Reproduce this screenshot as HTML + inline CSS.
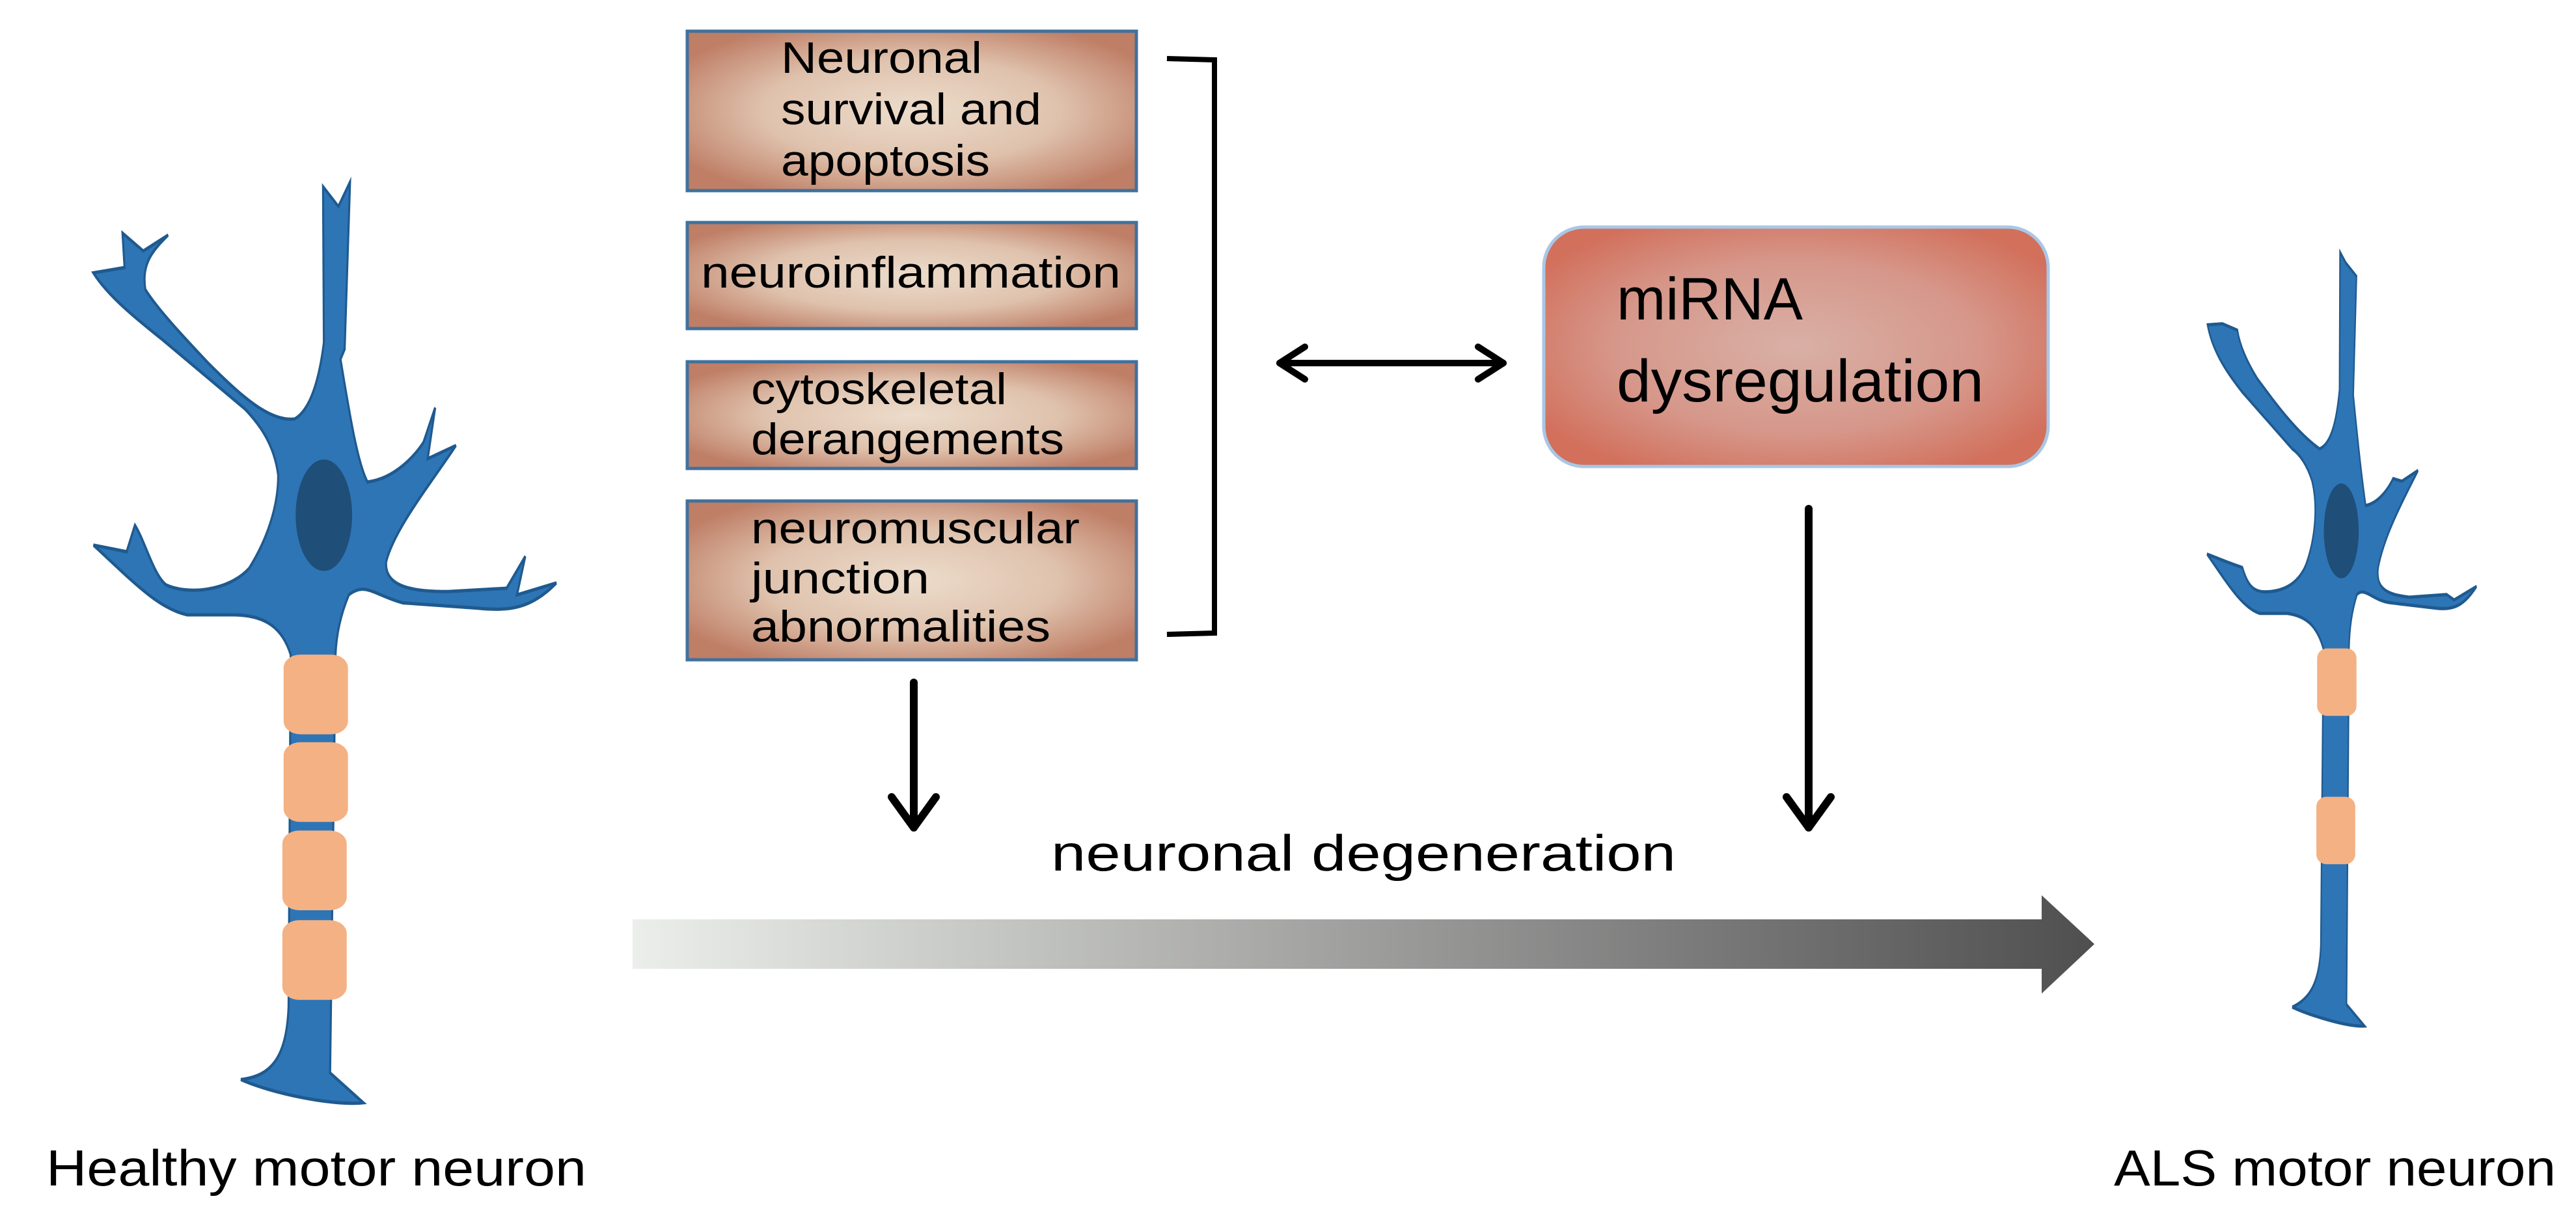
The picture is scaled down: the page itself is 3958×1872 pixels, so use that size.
<!DOCTYPE html>
<html><head><meta charset="utf-8"><style>html,body{margin:0;padding:0;background:#fff}svg{display:block}</style></head>
<body>
<svg width="3958" height="1872" viewBox="0 0 3958 1872" xmlns="http://www.w3.org/2000/svg" font-family="'Liberation Sans', sans-serif">
<defs>
<radialGradient id="bx" cx="50%" cy="50%" r="60%">
<stop offset="0" stop-color="#ecdccb"/><stop offset="0.55" stop-color="#dfc2ad"/><stop offset="1" stop-color="#bf7e66"/>
</radialGradient>
<radialGradient id="mb" cx="50%" cy="50%" r="60%">
<stop offset="0" stop-color="#d9b0a6"/><stop offset="0.6" stop-color="#d6978a"/><stop offset="1" stop-color="#d2705c"/>
</radialGradient>
<linearGradient id="ga" x1="0" x2="1" y1="0" y2="0">
<stop offset="0" stop-color="#eceeeb"/><stop offset="1" stop-color="#4f4f4f"/>
</linearGradient>
</defs>

<!-- Healthy neuron -->
<g transform="translate(0,200) scale(0.638,1.0204)">
<path fill="#2e75b6" stroke="#1f5a8f" stroke-width="5" d="M778 85 L815 115 L843 78 L830 330 L820 345 C840 420 860 500 885 530 C950 525 1000 490 1020 470 L1048 418 L1030 495 L1098 475 C1040 530 950 600 930 650 C925 690 1000 695 1080 695 L1220 690 L1265 642 L1245 700 L1340 682 C1280 720 1230 725 1150 720 L970 712 C900 700 880 680 840 700 C820 730 810 760 808 790 L795 1420 L875 1465 C800 1470 650 1450 580 1430 C650 1425 690 1400 695 1320 L700 790 C680 750 640 730 560 730 L450 730 C380 720 320 680 225 625 L305 635 L325 595 C350 620 370 670 400 685 C450 700 550 695 600 660 C640 620 670 570 670 520 C660 470 620 440 590 420 L390 315 C330 285 260 250 225 215 L300 207 L295 155 L345 182 L405 158 C370 180 340 200 350 240 C380 270 440 310 500 350 C580 400 650 440 710 435 C750 420 770 370 780 320 Z"/>
<ellipse cx="780" cy="580" rx="68" ry="84" fill="#1f4e79"/>
<g fill="#f4b183">
<rect x="683" y="790" width="155" height="120" rx="40" ry="20"/>
<rect x="683" y="922" width="155" height="120" rx="40" ry="20"/>
<rect x="680" y="1055" width="155" height="120" rx="40" ry="20"/>
<rect x="680" y="1190" width="155" height="120" rx="40" ry="20"/>
</g>
</g>

<!-- ALS neuron -->
<g transform="translate(3300,350) scale(0.3827,0.829)">
<path fill="#2e75b6" stroke="#1f5a8f" stroke-width="6" d="M772 45 L795 65 L838 90 L825 310 C840 380 855 450 875 515 C930 510 970 480 985 465 L1020 470 L1085 450 C1020 510 950 570 925 630 C915 670 960 680 1050 685 L1200 680 L1230 690 L1320 665 C1270 700 1230 710 1150 705 L970 695 C900 690 870 665 840 680 C820 710 810 740 808 780 L798 1440 L870 1480 C800 1482 650 1460 580 1445 C650 1430 690 1400 695 1330 L705 780 C680 740 640 720 560 715 L450 715 C380 705 320 660 238 605 L320 620 L380 630 C400 660 420 675 470 675 C530 675 600 665 635 625 C670 580 685 520 660 470 C640 440 610 420 580 410 L380 305 C320 270 260 230 240 180 L300 178 L360 190 C370 220 400 250 440 280 C520 330 600 380 690 410 C740 400 760 350 770 300 Z"/>
<ellipse cx="777" cy="562" rx="70" ry="88" fill="#1f4e79"/>
<g fill="#f4b183">
<rect x="680" y="780" width="158" height="125" rx="40" ry="18"/>
<rect x="677" y="1055" width="156" height="125" rx="40" ry="18"/>
</g>
</g>

<!-- Boxes -->
<g stroke="#41719c" stroke-width="5" fill="url(#bx)">
<rect x="1056" y="48" width="690" height="245"/>
<rect x="1056" y="342" width="690" height="163"/>
<rect x="1056" y="556" width="690" height="164"/>
<rect x="1056" y="770" width="690" height="244"/>
</g>
<g font-size="68" fill="#000">
<text x="1200" y="112" textLength="309" lengthAdjust="spacingAndGlyphs">Neuronal</text>
<text x="1200" y="191" textLength="400" lengthAdjust="spacingAndGlyphs">survival and</text>
<text x="1200" y="270" textLength="321" lengthAdjust="spacingAndGlyphs">apoptosis</text>
<text x="1077" y="442" textLength="645" lengthAdjust="spacingAndGlyphs">neuroinflammation</text>
<text x="1154" y="621" textLength="393" lengthAdjust="spacingAndGlyphs">cytoskeletal</text>
<text x="1154" y="698" textLength="481" lengthAdjust="spacingAndGlyphs">derangements</text>
<text x="1154" y="835" textLength="505" lengthAdjust="spacingAndGlyphs">neuromuscular</text>
<text x="1154" y="912" textLength="274" lengthAdjust="spacingAndGlyphs">junction</text>
<text x="1154" y="986" textLength="460" lengthAdjust="spacingAndGlyphs">abnormalities</text>
</g>

<!-- Bracket -->
<path d="M1793 90 L1866 92 L1866 973 L1793 975" fill="none" stroke="#000" stroke-width="8"/>

<!-- Double arrow -->
<g stroke="#000" stroke-width="10" fill="none" stroke-linecap="round" stroke-linejoin="round">
<line x1="1966" y1="558" x2="2310" y2="558"/>
<polyline points="2005,533 1966,558 2005,583"/>
<polyline points="2271,533 2310,558 2271,583"/>
</g>

<!-- miRNA box -->
<rect x="2372" y="349" width="775" height="368" rx="62" ry="62" fill="url(#mb)" stroke="#a9c7e6" stroke-width="5"/>
<g font-size="92" fill="#000">
<text x="2484" y="491" textLength="286" lengthAdjust="spacingAndGlyphs">miRNA</text>
<text x="2484" y="617" textLength="564" lengthAdjust="spacingAndGlyphs">dysregulation</text>
</g>

<!-- Vertical arrows -->
<g stroke="#000" stroke-width="12" fill="none" stroke-linecap="round" stroke-linejoin="round">
<line x1="1404" y1="1049" x2="1404" y2="1272"/>
<polyline points="1370,1225 1404,1272 1438,1225"/>
<line x1="2779" y1="782" x2="2779" y2="1272"/>
<polyline points="2745,1225 2779,1272 2813,1225"/>
</g>

<!-- Gradient arrow -->
<path d="M972 1413 L3137 1413 L3137 1376 L3218 1451 L3137 1527 L3137 1489 L972 1489 Z" fill="url(#ga)"/>

<!-- Labels -->
<g font-size="78" fill="#000">
<text x="1615" y="1338" textLength="960" lengthAdjust="spacingAndGlyphs">neuronal degeneration</text>
<text x="71" y="1822" textLength="830" lengthAdjust="spacingAndGlyphs">Healthy motor neuron</text>
<text x="3248" y="1822" textLength="679" lengthAdjust="spacingAndGlyphs">ALS motor neuron</text>
</g>
</svg>
</body></html>
